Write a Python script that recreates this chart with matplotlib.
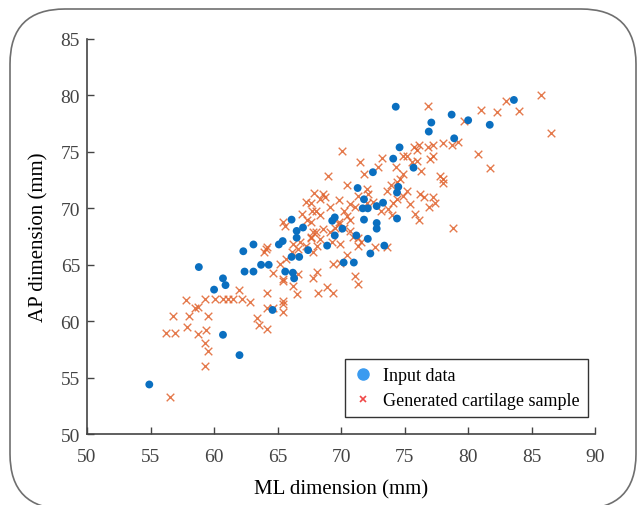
import numpy as np
import matplotlib.pyplot as plt
from matplotlib.patches import FancyBboxPatch
from matplotlib.lines import Line2D
from matplotlib.transforms import IdentityTransform

plt.rcParams['font.family'] = ['Liberation Serif', 'DejaVu Serif']

# Input data (ML, AP) em mm
ml_input = [54.9, 58.8, 60.0, 60.7, 60.9, 60.7, 62.0, 62.3, 62.4, 63.1, 63.1, 63.7, 64.3,
            64.6, 65.1, 65.4, 65.6, 66.1, 66.7, 66.2, 66.3, 66.1, 66.5, 67.0, 66.5, 67.4,
            68.9, 69.3, 69.5, 70.1, 69.5, 70.2, 71.0, 71.2, 72.1, 72.3, 73.4, 72.8, 71.8,
            71.7, 72.1, 72.8, 71.8, 71.3, 72.5, 73.3, 72.8, 74.4, 74.5, 74.4, 75.7, 74.6,
            74.3, 77.1, 76.9, 78.7, 80.0, 81.7, 83.6, 78.9, 74.1]
ap_input = [54.4, 64.8, 62.8, 63.8, 63.2, 58.8, 57.0, 66.2, 64.4, 64.4, 66.8, 65.0, 65.0,
            61.0, 66.8, 67.1, 64.4, 65.7, 65.7, 64.3, 63.8, 69.0, 68.0, 68.3, 67.4, 66.3,
            66.7, 68.9, 69.2, 68.2, 67.6, 65.2, 65.2, 67.6, 67.3, 66.0, 66.7, 68.2, 69.0,
            70.0, 70.0, 70.2, 70.8, 71.8, 73.2, 70.5, 68.7, 69.1, 71.9, 71.4, 73.6, 75.4,
            79.0, 77.6, 76.8, 78.3, 77.8, 77.4, 79.6, 76.2, 74.4]

# Amostras geradas
ml_gen = [56.5, 56.2, 56.9, 56.8, 57.8, 58.0, 57.9, 58.5, 58.7, 59.3, 59.5, 58.7, 59.4,
          59.3, 59.5, 59.3, 60.1, 60.7, 61.1, 61.5, 62.0, 62.2, 62.8, 63.4, 63.5, 64.2,
          64.2, 64.2, 64.6, 65.4, 65.4, 65.4, 63.9, 64.1, 64.6, 65.4, 65.2, 65.4, 66.5,
          66.2, 66.6, 67.8, 68.1, 68.2, 68.9, 69.4, 69.4, 69.9, 70.5, 71.1, 71.3, 67.8,
          68.1, 65.4, 65.6, 67.6, 67.8, 66.8, 69.8, 65.7, 66.1, 66.6, 67.2,
          70.1, 71.5, 71.8, 69.0, 70.5, 67.9, 68.6, 68.7, 68.3, 69.8, 67.2, 67.6, 70.7,
          71.1, 71.3, 69.1, 68.3, 67.7, 68.0, 67.3, 67.6, 66.9, 70.2, 70.5, 70.7, 69.8,
          70.2, 68.6, 68.0, 67.6, 68.3, 69.1, 69.5, 70.7, 70.9, 71.3, 71.6, 64.2, 66.2,
          76.1, 76.8, 77.2, 78.0, 78.7, 79.2, 75.7, 76.0, 80.8, 81.7, 77.0, 77.2, 76.0,
          75.6, 74.9, 75.2, 74.3, 72.9, 76.3, 77.8, 78.0, 78.0, 74.9, 74.6, 74.4, 73.9,
          73.6, 75.2, 74.9, 74.4, 74.1, 76.2, 76.5, 77.2, 77.4, 76.9, 75.4, 75.8, 76.1,
          72.0, 72.1, 72.0, 72.5, 73.1, 73.7, 74.0, 78.8, 73.6, 72.7, 73.2,
          76.8, 85.7, 86.5, 83.0, 84.0, 82.3, 81.0, 79.7, 69.3, 69.9, 71.3]
ap_gen = [53.3, 59.0, 59.0, 60.5, 61.9, 60.5, 59.5, 61.2, 61.3, 62.0, 60.5, 58.9, 59.2,
          58.1, 57.4, 56.0, 62.0, 62.0, 62.0, 62.0, 62.8, 62.0, 61.7, 60.3, 59.7, 59.3,
          61.2, 62.5, 61.2, 61.8, 61.5, 60.8, 66.1, 66.4, 64.3, 63.6, 65.1, 63.7, 62.4,
          63.1, 64.2, 63.8, 64.4, 62.5, 63.0, 62.5, 65.1, 65.2, 65.9, 64.0, 63.3, 66.1,
          66.7, 68.8, 68.4, 67.5, 67.9, 67.0, 68.6, 65.5, 66.1, 66.4, 66.7,
          75.1, 74.1, 73.0, 72.9, 72.1, 71.4, 71.3, 71.0, 70.8, 70.7, 70.6, 70.5, 70.4,
          70.1, 71.1, 70.1, 69.4, 69.8, 69.8, 69.0, 68.8, 69.5, 69.8, 69.3, 69.0, 68.8,
          68.3, 68.2, 67.9, 67.4, 67.3, 67.9, 68.3, 68.0, 67.5, 67.4, 67.0, 66.6, 66.8,
          75.6, 75.4, 75.6, 75.8, 75.6, 75.9, 75.4, 75.2, 74.8, 73.6, 74.4, 74.6, 74.2,
          74.1, 74.6, 74.6, 73.7, 73.7, 73.3, 72.9, 72.6, 72.2, 73.0, 72.6, 72.3, 72.1,
          71.5, 71.5, 71.1, 70.8, 70.5, 71.3, 71.0, 71.0, 70.5, 70.1, 70.4, 69.5, 69.0,
          71.7, 71.3, 70.5, 70.6, 69.8, 69.9, 69.4, 68.3, 66.6, 66.6, 74.5,
          79.1, 80.0, 76.7, 79.5, 78.6, 78.5, 78.7, 77.7, 67.0, 66.8, 66.7]

x_ticks = [50, 55, 60, 65, 70, 75, 80, 85, 90]
y_ticks = [50, 55, 60, 65, 70, 75, 80, 85]

fig = plt.figure(figsize=(6.4, 5.06), dpi=100)

# moldura arredondada (em pixels), a borda de baixo fica cortada
moldura = FancyBboxPatch((10, -4), 626, 500,
                         boxstyle="round,pad=0,rounding_size=55",
                         transform=IdentityTransform(), fill=False,
                         edgecolor='#6f6f6f', linewidth=1.2)
fig.add_artist(moldura)

ax = fig.add_axes([0.136, 0.140, 0.794, 0.781])
ax.scatter(ml_gen, ap_gen, marker='x', s=30, color='#E0632E', linewidths=1.0,
           alpha=0.85, zorder=2)
ax.scatter(ml_input, ap_input, marker='o', s=32, color='#0A6FC0', edgecolors='none',
           zorder=3)

ax.set_xlim(50, 90)
ax.set_ylim(50, 85)
ax.set_xticks(x_ticks)
ax.set_yticks(y_ticks)
ax.tick_params(direction='in', length=5, width=1, colors='#444444',
               labelsize=14, labelcolor='#444444')
ax.tick_params(axis='x', pad=10)
ax.tick_params(axis='y', pad=5)
for lado in ['top', 'right']:
    ax.spines[lado].set_visible(False)
for lado in ['left', 'bottom']:
    ax.spines[lado].set_color('#444444')
    ax.spines[lado].set_linewidth(1.2)

ax.set_xlabel('ML dimension (mm)', fontsize=15, labelpad=10)
ax.set_ylabel('AP dimension (mm)', fontsize=15, labelpad=9)

handles = [Line2D([], [], marker='o', linestyle='none', color='#3A9BF0', markersize=8),
           Line2D([], [], marker='x', linestyle='none', color='#F04848', markersize=5,
                  markeredgewidth=1.2)]
leg = ax.legend(handles, ['Input data', 'Generated cartilage sample'],
                loc='lower right', bbox_to_anchor=(0.986, 0.043), borderaxespad=0,
                fontsize=13, fancybox=False, edgecolor='#333333', framealpha=1,
                handlelength=1.2, handletextpad=0.5, borderpad=0.45, labelspacing=0.45)
leg.get_frame().set_linewidth(1.0)

fig.savefig('out.png', dpi=100)
